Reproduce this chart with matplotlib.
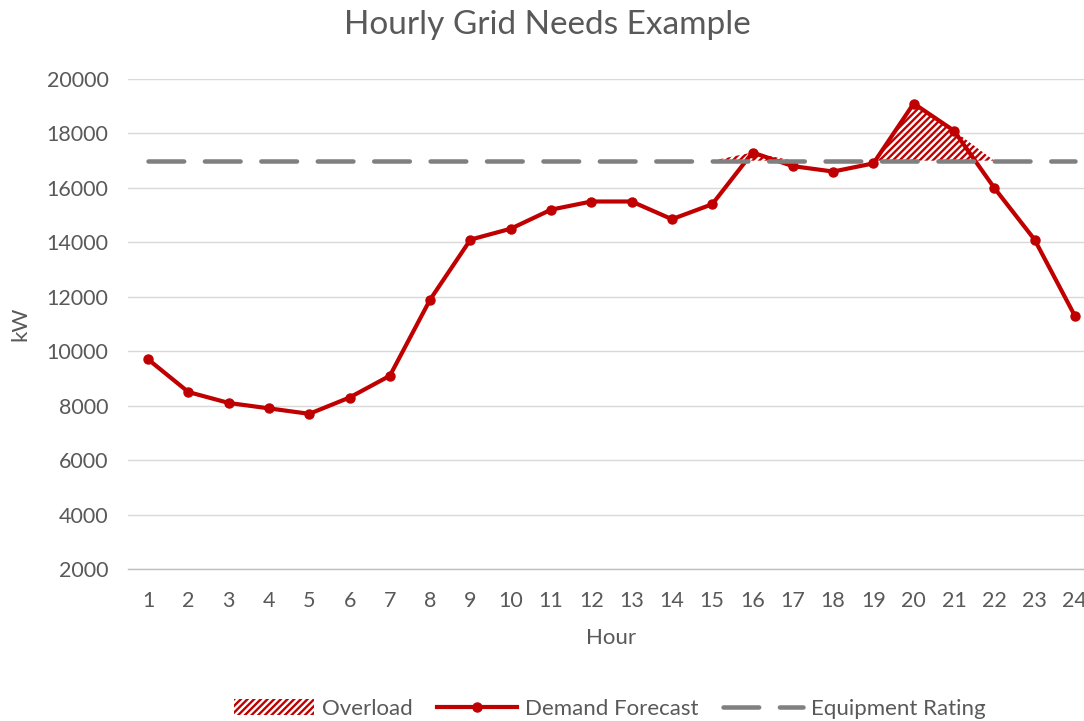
import matplotlib
matplotlib.use("Agg")
import matplotlib.pyplot as plt
from matplotlib.patches import Patch
from matplotlib.lines import Line2D

hours = list(range(1, 25))
demand = [9700, 8500, 8100, 7900, 7700, 8300, 9100, 11900, 14100, 14500,
          15200, 15500, 15500, 14850, 15400, 17300, 16800, 16600, 16900,
          19100, 18100, 16000, 14100, 11300]
rating = [17000] * 24
overload = [0, 0, 0, 0, 0, 0, 0, 0, 0, 0, 0, 0, 0, 0, 0, 300, 0, 0, 0,
            2100, 1100, 0, 0, 0]
yticks = [2000, 4000, 6000, 8000, 10000, 12000, 14000, 16000, 18000, 20000]

RED = "#c00000"
GRAY = "#808080"
TXT = "#595959"

plt.rcParams["font.family"] = ["Lato", "DejaVu Sans"]
plt.rcParams["hatch.linewidth"] = 1.7

W, H = 1084, 721
fig = plt.figure(figsize=(W / 100, H / 100), dpi=100)
left, right, top, bottom = 128, 1095, 79, 569
ax = fig.add_axes([left / W, 1 - bottom / H, (right - left) / W, (bottom - top) / H])

top_vals = [r + o for r, o in zip(rating, overload)]
ax.fill_between(hours, rating, top_vals, facecolor="none", edgecolor=RED,
                hatch="/////", linewidth=0, zorder=2)
ax.plot(hours, demand, color=RED, lw=3.0, marker="o", markersize=6.5,
        zorder=3, solid_capstyle="round")
ax.plot(hours, rating, color=GRAY, lw=3.25, linestyle=(0, (7.9, 4.6)),
        dash_capstyle="round", zorder=4)

ax.set_xlim(0.5, 24.5)
ax.set_ylim(2000, 20000)
ax.set_xticks(hours)
ax.set_xticklabels([str(h) for h in hours])
ax.set_yticks(yticks)
ax.set_yticklabels([str(v) for v in yticks])
ax.grid(axis="y", color="#d9d9d9", lw=1)
ax.set_axisbelow(True)
for s in ["left", "right", "top"]:
    ax.spines[s].set_visible(False)
ax.spines["bottom"].set_color("#bfbfbf")
ax.spines["bottom"].set_linewidth(1)
ax.tick_params(length=0, labelsize=15.5, colors=TXT)
ax.tick_params(axis="x", pad=16)
ax.tick_params(axis="y", pad=14)

ax.set_ylabel("kW", fontsize=16, color=TXT)
ax.set_xlabel("Hour", fontsize=16, color=TXT)
ax.yaxis.set_label_coords((20 - left) / (right - left), 0.5)
ax.xaxis.set_label_coords(0.5, -(638 - bottom) / (bottom - top))
ax.yaxis.label.set_va("center")
ax.xaxis.label.set_va("center")

fig.text(547 / W, 1 - 25 / H, "Hourly Grid Needs Example", ha="center",
         va="center", fontsize=24, color=TXT)

handles = [
    Patch(facecolor="none", edgecolor=RED, hatch="/////", linewidth=0),
    Line2D([], [], color=RED, lw=3.0, marker="o", markersize=6.5),
    Line2D([], [], color=GRAY, lw=3.25, linestyle=(0, (7.9, 4.6)), dash_capstyle="round"),
]
labels = ["Overload", "Demand Forecast", "Equipment Rating"]
leg = fig.legend(handles, labels, loc="center", bbox_to_anchor=(610 / W, 1 - 709 / H),
                 ncol=3, frameon=False, fontsize=16, handlelength=3.6,
                 handletextpad=0.35, columnspacing=1.1, labelcolor=TXT)

fig.savefig("out.png", dpi=100)
